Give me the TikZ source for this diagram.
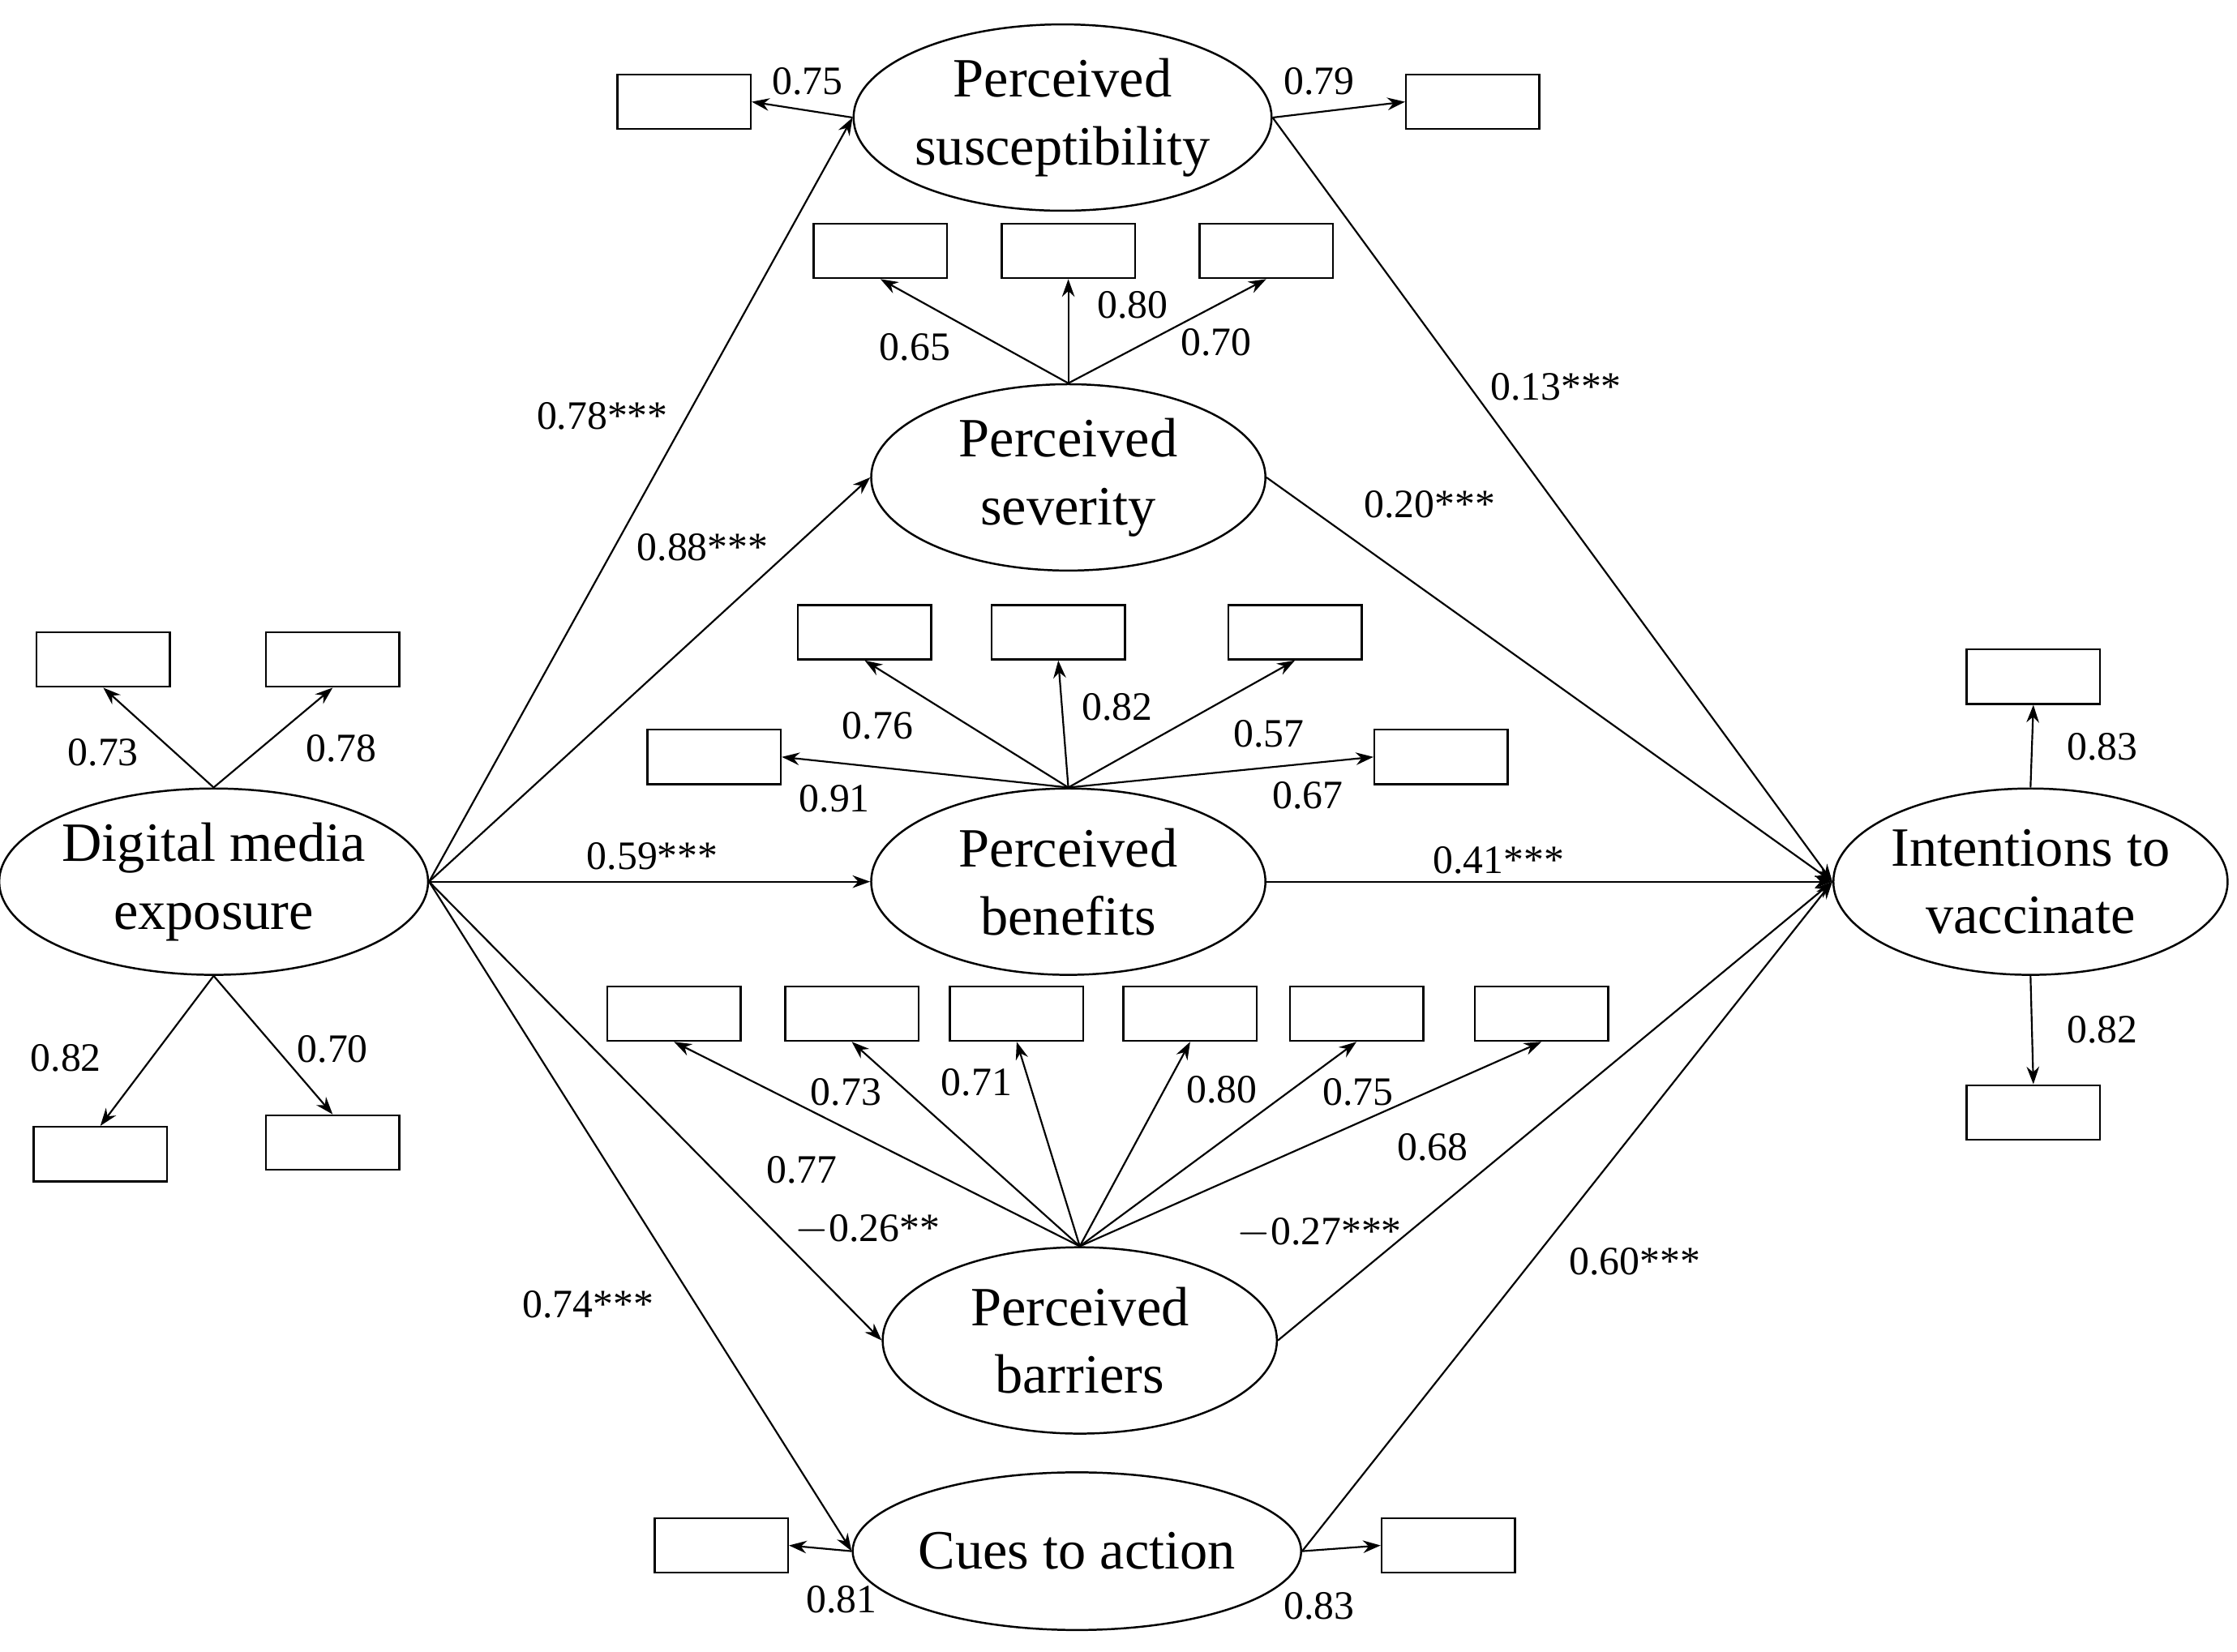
\documentclass[tikz,border=0pt]{standalone}
\usepackage{fontspec}
\setmainfont{Liberation Serif}
\usetikzlibrary{shapes.geometric,arrows.meta}
\begin{document}
\begin{tikzpicture}[x=0.02cm,y=-0.02cm,
 lat/.style={ellipse,draw,line width=0.8pt,minimum width=5.5cm,minimum height=2.6cm,inner sep=0pt,align=center,font=\fontsize{22}{27}\selectfont},
 box/.style={draw,line width=0.8pt,minimum width=1.86cm,minimum height=0.76cm,inner sep=0pt},
 ar/.style={line width=0.7pt,-{Stealth[length=7pt,width=5pt]}},
 lb/.style={font=\fontsize{16}{18}\selectfont}]
\useasboundingbox (0,0) rectangle (1560,1152);
\node[lat] (sus) at (741,82) {Perceived\\susceptibility};
\node[lat] (sev) at (745,333) {Perceived\\severity};
\node[lat] (ben) at (745,615) {Perceived\\benefits};
\node[lat] (bar) at (753,935) {Perceived\\barriers};
\node[lat,minimum height=2.2cm] (cue) at (751,1082) {Cues to action};
\node[lat] (dig) at (149,615) {Digital media\\exposure};
\node[lat] (int) at (1416,615) {Intentions to\\vaccinate};
% boxes
\node[box] (s1) at (477,71) {}; \node[box] (s2) at (1027,71) {};
\node[box] (v1) at (614,175) {}; \node[box] (v2) at (745,175) {}; \node[box] (v3) at (883,175) {};
\node[box] (b1) at (603,441) {}; \node[box] (b2) at (738,441) {}; \node[box] (b3) at (903,441) {};
\node[box] (b4) at (498,528) {}; \node[box] (b5) at (1005,528) {};
\node[box] (r1) at (470,707) {}; \node[box] (r2) at (594,707) {}; \node[box] (r3) at (709,707) {};
\node[box] (r4) at (830,707) {}; \node[box] (r5) at (946,707) {}; \node[box] (r6) at (1075,707) {};
\node[box] (d1) at (72,460) {}; \node[box] (d2) at (232,460) {}; \node[box] (d3) at (70,805) {}; \node[box] (d4) at (232,797) {};
\node[box] (i1) at (1418,472) {}; \node[box] (i2) at (1418,776) {};
\node[box] (c1) at (503,1078) {}; \node[box] (c2) at (1010,1078) {};
% loadings
\draw[ar] (sus.west) -- (s1.east); \node[lb] at (563,57) {0.75};
\draw[ar] (sus.east) -- (s2.west); \node[lb] at (920,57) {0.79};
\draw[ar] (sev.north) -- (v1.south); \node[lb] at (638,242) {0.65};
\draw[ar] (sev.north) -- (v2.south); \node[lb] at (790,213) {0.80};
\draw[ar] (sev.north) -- (v3.south); \node[lb] at (848,239) {0.70};
\draw[ar] (ben.north) -- (b1.south); \node[lb] at (612,506) {0.76};
\draw[ar] (ben.north) -- (b2.south); \node[lb] at (779,493) {0.82};
\draw[ar] (ben.north) -- (b3.south); \node[lb] at (885,512) {0.57};
\draw[ar] (ben.north) -- (b4.east); \node[lb] at (582,557) {0.91};
\draw[ar] (ben.north) -- (b5.west); \node[lb] at (912,555) {0.67};
\draw[ar] (bar.north) -- (r1.south); \node[lb] at (559,816) {0.77};
\draw[ar] (bar.north) -- (r2.south); \node[lb] at (590,762) {0.73};
\draw[ar] (bar.north) -- (r3.south); \node[lb] at (681,755) {0.71};
\draw[ar] (bar.north) -- (r4.south); \node[lb] at (852,760) {0.80};
\draw[ar] (bar.north) -- (r5.south); \node[lb] at (947,762) {0.75};
\draw[ar] (bar.north) -- (r6.south); \node[lb] at (999,800) {0.68};
\draw[ar] (dig.north) -- (d1.south); \node[lb] at (72,525) {0.73};
\draw[ar] (dig.north) -- (d2.south); \node[lb] at (238,522) {0.78};
\draw[ar] (dig.south) -- (d3.north); \node[lb] at (46,738) {0.82};
\draw[ar] (dig.south) -- (d4.north); \node[lb] at (232,732) {0.70};
\draw[ar] (int.north) -- (i1.south); \node[lb] at (1466,521) {0.83};
\draw[ar] (int.south) -- (i2.north); \node[lb] at (1466,718) {0.82};
\draw[ar] (cue.west) -- (c1.east); \node[lb] at (587,1116) {0.81};
\draw[ar] (cue.east) -- (c2.west); \node[lb] at (920,1120) {0.83};
% structural paths
\draw[ar] (dig.east) -- (sus.west); \node[lb] at (420,290) {0.78***};
\draw[ar] (dig.east) -- (sev.west); \node[lb] at (490,382) {0.88***};
\draw[ar] (dig.east) -- (ben.west); \node[lb] at (455,597) {0.59***};
\draw[ar] (dig.east) -- (bar.west); \node[lb] at (605,858) {$-$0.26**};
\draw[ar] (dig.east) -- (cue.west); \node[lb] at (410,910) {0.74***};
\draw[ar] (sus.east) -- (int.west); \node[lb] at (1085,270) {0.13***};
\draw[ar] (sev.east) -- (int.west); \node[lb] at (997,352) {0.20***};
\draw[ar] (ben.east) -- (int.west); \node[lb] at (1045,600) {0.41***};
\draw[ar] (bar.east) -- (int.west); \node[lb] at (920,860) {$-$0.27***};
\draw[ar] (cue.east) -- (int.west); \node[lb] at (1140,880) {0.60***};
\end{tikzpicture}
\end{document}
